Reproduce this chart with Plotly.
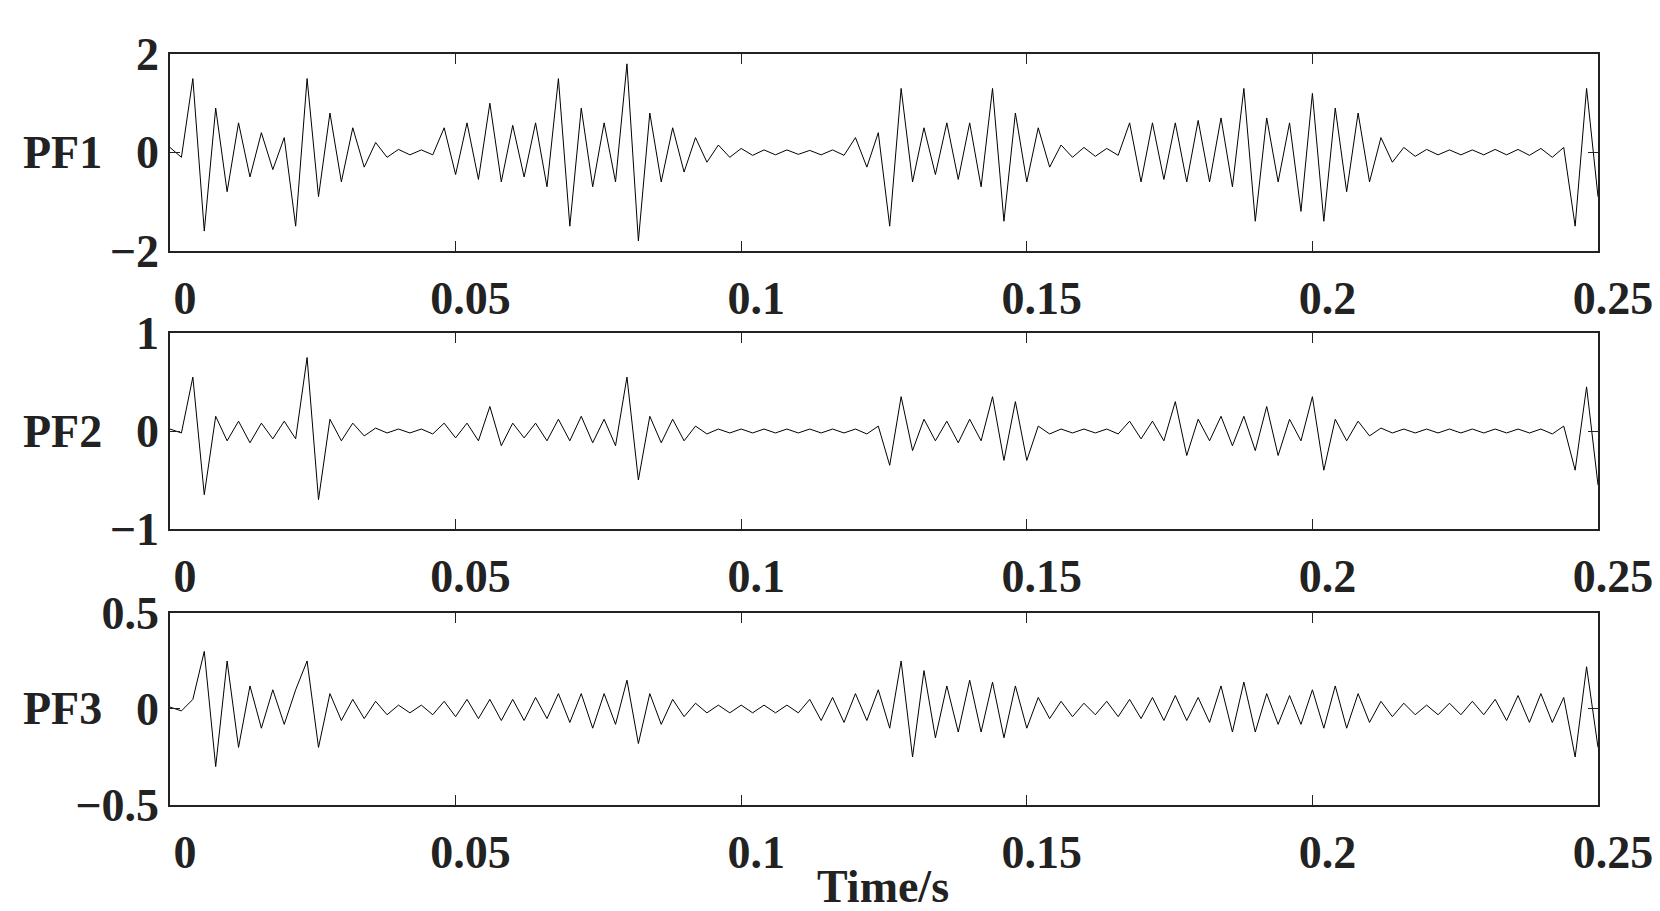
import numpy as np
import plotly.graph_objects as go

t_step_ms = 2  # sample spacing in ms
pf1 = [0.1,-0.1,1.5,-1.6,0.9,-0.8,0.6,-0.5,0.4,-0.35,
       0.3,-1.5,1.5,-0.9,0.8,-0.6,0.5,-0.3,0.2,-0.1,
       0.06,-0.05,0.05,-0.05,0.5,-0.45,0.6,-0.55,1.0,-0.6,
       0.55,-0.5,0.6,-0.7,1.5,-1.5,0.9,-0.7,0.6,-0.6,
       1.8,-1.8,0.8,-0.6,0.5,-0.4,0.3,-0.2,0.15,-0.1,
       0.08,-0.06,0.05,-0.05,0.05,-0.04,0.04,-0.05,0.05,-0.06,
       0.3,-0.3,0.4,-1.5,1.3,-0.6,0.5,-0.45,0.6,-0.55,
       0.6,-0.7,1.3,-1.4,0.8,-0.6,0.5,-0.3,0.15,-0.1,
       0.1,-0.08,0.08,-0.06,0.6,-0.6,0.6,-0.55,0.6,-0.6,
       0.65,-0.6,0.7,-0.7,1.3,-1.4,0.7,-0.6,0.6,-1.2,
       1.2,-1.4,0.9,-0.8,0.8,-0.6,0.3,-0.2,0.1,-0.08,
       0.06,-0.05,0.05,-0.05,0.05,-0.05,0.06,-0.05,0.06,-0.06,
       0.08,-0.1,0.1,-1.5,1.3,-0.9]
pf2 = [0.02,-0.02,0.55,-0.65,0.15,-0.1,0.1,-0.12,0.08,-0.08,
       0.1,-0.08,0.75,-0.7,0.12,-0.1,0.08,-0.05,0.03,-0.02,
       0.02,-0.02,0.02,-0.03,0.08,-0.07,0.08,-0.1,0.25,-0.15,
       0.08,-0.07,0.08,-0.1,0.12,-0.1,0.15,-0.12,0.12,-0.15,
       0.55,-0.5,0.15,-0.12,0.12,-0.1,0.05,-0.03,0.02,-0.02,
       0.02,-0.02,0.02,-0.02,0.02,-0.02,0.02,-0.02,0.02,-0.02,
       0.02,-0.03,0.05,-0.35,0.35,-0.2,0.12,-0.1,0.1,-0.12,
       0.12,-0.1,0.35,-0.3,0.3,-0.3,0.05,-0.03,0.02,-0.02,
       0.02,-0.02,0.02,-0.03,0.1,-0.08,0.1,-0.1,0.3,-0.25,
       0.12,-0.1,0.15,-0.15,0.15,-0.2,0.25,-0.25,0.12,-0.1,
       0.35,-0.4,0.12,-0.1,0.1,-0.05,0.03,-0.02,0.02,-0.02,
       0.02,-0.02,0.02,-0.02,0.02,-0.02,0.02,-0.02,0.02,-0.02,
       0.02,-0.03,0.05,-0.4,0.45,-0.55]
pf3 = [0.01,-0.01,0.05,0.3,-0.3,0.25,-0.2,0.12,-0.1,0.1,
       -0.08,0.1,0.25,-0.2,0.08,-0.06,0.05,-0.05,0.04,-0.03,
       0.02,-0.02,0.02,-0.03,0.04,-0.04,0.05,-0.05,0.05,-0.06,
       0.05,-0.06,0.06,-0.05,0.08,-0.07,0.08,-0.1,0.08,-0.08,
       0.15,-0.18,0.08,-0.08,0.05,-0.04,0.03,-0.02,0.02,-0.02,
       0.02,-0.02,0.02,-0.02,0.02,-0.02,0.05,-0.06,0.06,-0.07,
       0.08,-0.06,0.1,-0.1,0.25,-0.25,0.2,-0.15,0.12,-0.12,
       0.15,-0.12,0.14,-0.15,0.12,-0.1,0.06,-0.05,0.04,-0.04,
       0.03,-0.03,0.04,-0.04,0.05,-0.05,0.06,-0.06,0.07,-0.06,
       0.06,-0.07,0.12,-0.12,0.14,-0.12,0.08,-0.08,0.07,-0.08,
       0.1,-0.1,0.12,-0.1,0.08,-0.07,0.04,-0.04,0.03,-0.03,
       0.02,-0.03,0.03,-0.03,0.04,-0.03,0.05,-0.06,0.07,-0.07,
       0.08,-0.07,0.06,-0.25,0.22,-0.2]
names = ["PF1", "PF2", "PF3"]
yticks = [[-2, 0, 2], [-1, 0, 1], [-0.5, 0, 0.5]]
yticktext = [["−2", "0", "2"], ["−1", "0", "1"], ["−0.5", "0", "0.5"]]
xticks = [0, 0.05, 0.1, 0.15, 0.2, 0.25]
xticktext = ["0", "0.05", "0.1", "0.15", "0.2", "0.25"]
series = [pf1, pf2, pf3]
domains = [[0.738, 1.0], [0.3675, 0.6285], [0.0, 0.2557]]

tf = dict(family="Liberation Serif", size=46, color="#222", weight="bold")
fig = go.Figure()
for i, s in enumerate(series):
    t = np.arange(len(s)) * t_step_ms / 1000.0
    n = "" if i == 0 else str(i + 1)
    fig.add_trace(go.Scatter(x=t, y=s, mode="lines", line=dict(color="black", width=1),
                             xaxis="x" + n, yaxis="y" + n, showlegend=False))
    fig.layout["xaxis" + n] = dict(range=[0, 0.25], domain=[0, 1], anchor="y" + n,
        tickvals=xticks, ticktext=xticktext, ticks="inside", ticklen=10, tickcolor="#222",
        showline=True, linecolor="#222", linewidth=1.5, mirror="ticks", showgrid=False,
        zeroline=False, ticklabelshift=15, ticklabelstandoff=6, tickfont=tf)
    fig.layout["yaxis" + n] = dict(range=[yticks[i][0], yticks[i][2]], domain=domains[i],
        anchor="x" + n, tickvals=yticks[i], ticktext=yticktext[i], ticks="inside",
        ticklen=10, tickcolor="#222", showline=True, linecolor="#222", linewidth=1.5,
        mirror="ticks", showgrid=False, zeroline=False, ticklabelstandoff=0, tickfont=tf)
    fig.add_annotation(text="<b>" + names[i] + "</b>", xref="paper", yref="paper",
                       x=-0.075, y=sum(domains[i]) / 2, xanchor="center", yanchor="middle",
                       showarrow=False, font=dict(family="Liberation Serif", size=46, color="#222"))

fig.add_annotation(text="<b>Time/s</b>", xref="paper", yref="paper", x=0.499, y=-0.108,
                   showarrow=False, xanchor="center", yanchor="middle",
                   font=dict(family="Liberation Serif", size=46, color="#222"))
fig.update_layout(width=1660, height=911, margin=dict(l=162, r=70, t=46, b=114),
                  plot_bgcolor="white", paper_bgcolor="white")
fig.write_html("out.html")
